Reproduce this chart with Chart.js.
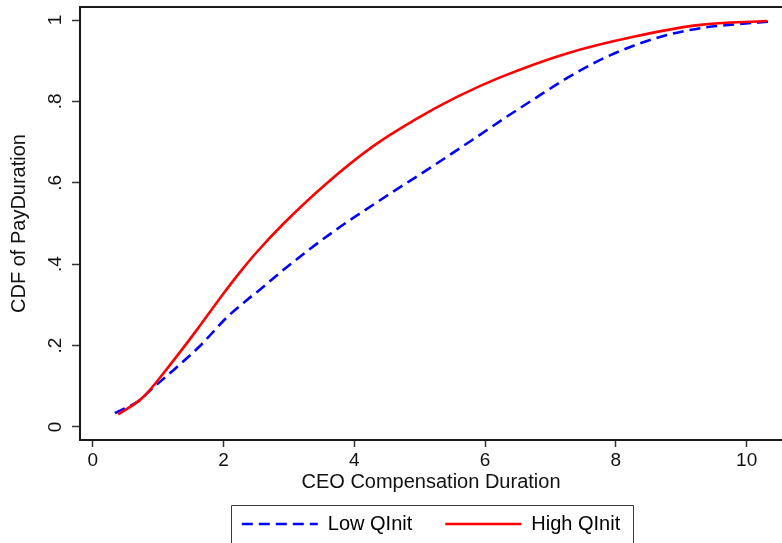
<!DOCTYPE html>
<html>
<head>
<meta charset="utf-8">
<title>CDF of PayDuration</title>
<script src="https://cdn.jsdelivr.net/npm/chart.js@4.4.1/dist/chart.umd.min.js"></script>
<style>
  html, body { margin: 0; padding: 0; background: #ffffff; }
  canvas { display: block; }
</style>
</head>
<body>
<canvas id="cdf" width="782" height="543"></canvas>
<script>
// Series: cumulative share of CEOs by compensation duration (years)
const seriesNames = ['Low QInit', 'High QInit'];

const lowX = [0.34, 0.72, 0.88, 1.23, 1.64, 2.05, 2.35, 2.56, 2.97, 3.68, 4.44, 5.21, 5.82, 6.28, 6.74, 7.25, 7.76, 8.27, 8.78, 9.29, 9.80, 10.36];
const lowY = [0.034, 0.066, 0.090, 0.139, 0.199, 0.269, 0.311, 0.338, 0.393, 0.480, 0.562, 0.642, 0.707, 0.757, 0.805, 0.857, 0.902, 0.937, 0.963, 0.980, 0.989, 0.996];

const highX = [0.39, 0.72, 0.83, 1.18, 1.59, 2.00, 2.25, 2.51, 2.92, 3.58, 4.29, 4.95, 5.57, 6.23, 7.25, 8.27, 9.29, 10.31];
const highY = [0.031, 0.066, 0.083, 0.152, 0.238, 0.328, 0.380, 0.430, 0.500, 0.599, 0.690, 0.757, 0.811, 0.859, 0.918, 0.959, 0.988, 0.9975];

const xTickValues = [0, 2, 4, 6, 8, 10];
const xTickLabels = ['0', '2', '4', '6', '8', '10'];
const yTickValues = [0, 0.2, 0.4, 0.6, 0.8, 1];
const yTickLabels = ['0', '.2', '.4', '.6', '.8', '1'];

const xTitle = 'CEO Compensation Duration';
const yTitle = 'CDF of PayDuration';

const FONT = "'Liberation Sans', Arial, Helvetica, sans-serif";
const LOW_COLOR = '#0000ff';
const HIGH_COLOR = '#ff0000';
const LOW_DASH = [11, 6];
const AXIS_COLOR = '#1a1a1a';

const toPoints = (xs, ys) => xs.map((x, i) => ({ x: x, y: ys[i] }));

// Top edge of the plot frame
const frameTop = {
  id: 'frameTop',
  afterDraw(chart) {
    const { ctx, chartArea } = chart;
    ctx.save();
    ctx.strokeStyle = AXIS_COLOR;
    ctx.lineWidth = 2;
    ctx.beginPath();
    ctx.moveTo(chartArea.left - 1, chartArea.top);
    ctx.lineTo(chartArea.right, chartArea.top);
    ctx.stroke();
    ctx.restore();
  }
};

// Thin box around the legend entries
const legendFrame = {
  id: 'legendFrame',
  afterDraw(chart) {
    const lg = chart.legend;
    if (!lg || !lg.legendHitBoxes || !lg.legendHitBoxes.length) return;
    const boxes = lg.legendHitBoxes;
    const first = boxes[0];
    const last = boxes[boxes.length - 1];
    const itemTop = lg.top + lg.options.labels.padding;
    const left = first.left - 11;
    const right = last.left + last.width + 13;
    const top = itemTop - 9;
    const { ctx } = chart;
    ctx.save();
    ctx.strokeStyle = '#3a3a3a';
    ctx.lineWidth = 1;
    ctx.beginPath();
    ctx.moveTo(Math.round(left) + 0.5, chart.height + 5);
    ctx.lineTo(Math.round(left) + 0.5, Math.round(top) + 0.5);
    ctx.lineTo(Math.round(right) + 0.5, Math.round(top) + 0.5);
    ctx.lineTo(Math.round(right) + 0.5, chart.height + 5);
    ctx.stroke();
    ctx.restore();
  }
};

new Chart(document.getElementById('cdf'), {
  type: 'line',
  data: {
    datasets: [
      {
        label: seriesNames[0],
        data: toPoints(lowX, lowY),
        borderColor: LOW_COLOR,
        borderWidth: 2.6,
        borderDash: LOW_DASH,
        pointRadius: 0,
        fill: false,
        cubicInterpolationMode: 'monotone',
        order: 1
      },
      {
        label: seriesNames[1],
        data: toPoints(highX, highY),
        borderColor: HIGH_COLOR,
        borderWidth: 2.6,
        pointRadius: 0,
        fill: false,
        cubicInterpolationMode: 'monotone',
        order: 0
      }
    ]
  },
  options: {
    responsive: false,
    animation: false,
    devicePixelRatio: 1,
    layout: { padding: { top: 7, right: 0, bottom: 0, left: 0 } },
    plugins: {
      tooltip: { enabled: false },
      legend: {
        position: 'bottom',
        fullSize: false,
        maxHeight: 62,
        labels: {
          usePointStyle: true,
          pointStyle: 'line',
          pointStyleWidth: 76,
          padding: 33,
          color: '#111111',
          font: { family: FONT, size: 20 },
          generateLabels() {
            return [
              { text: seriesNames[0], strokeStyle: LOW_COLOR, fillStyle: LOW_COLOR, lineWidth: 2.6, lineDash: LOW_DASH, pointStyle: 'line', datasetIndex: 0 },
              { text: seriesNames[1], strokeStyle: HIGH_COLOR, fillStyle: HIGH_COLOR, lineWidth: 2.6, lineDash: [], pointStyle: 'line', datasetIndex: 1 }
            ];
          }
        }
      }
    },
    scales: {
      x: {
        type: 'linear',
        position: 'bottom',
        min: -0.194,
        max: 10.54,
        afterBuildTicks(scale) {
          scale.ticks = xTickValues.map(v => ({ value: v }));
        },
        afterFit(scale) {
          scale.height = 41;
          scale.paddingLeft = 0;
          scale.paddingRight = 0;
        },
        ticks: {
          includeBounds: false,
          autoSkip: false,
          maxRotation: 0,
          minRotation: 0,
          padding: 2,
          color: '#111111',
          font: { family: FONT, size: 19 },
          callback: (value, index) => xTickLabels[index]
        },
        grid: {
          drawOnChartArea: false,
          drawTicks: true,
          tickLength: 7,
          tickColor: '#333333',
          tickWidth: 1.5
        },
        border: { display: true, color: AXIS_COLOR, width: 2 },
        title: {
          display: true,
          text: xTitle,
          color: '#111111',
          font: { family: FONT, size: 20, lineHeight: 1 },
          padding: { top: 0, bottom: -11 }
        }
      },
      y: {
        type: 'linear',
        position: 'left',
        min: -0.032,
        max: 1.032,
        afterBuildTicks(scale) {
          scale.ticks = yTickValues.map(v => ({ value: v }));
        },
        afterFit(scale) {
          scale.width = 80;
          scale.paddingTop = 0;
          scale.paddingBottom = 0;
        },
        ticks: {
          includeBounds: false,
          autoSkip: false,
          minRotation: 90,
          maxRotation: 90,
          crossAlign: 'center',
          padding: 8,
          color: '#111111',
          font: { family: FONT, size: 19 },
          callback: (value, index) => yTickLabels[index]
        },
        grid: {
          drawOnChartArea: false,
          drawTicks: true,
          tickLength: 8,
          tickColor: '#333333',
          tickWidth: 1.5
        },
        border: { display: true, color: AXIS_COLOR, width: 2 },
        title: {
          display: true,
          text: yTitle,
          color: '#111111',
          font: { family: FONT, size: 20, lineHeight: 1 },
          padding: { top: 9, bottom: 0 }
        }
      }
    }
  },
  plugins: [frameTop, legendFrame]
});
</script>
</body>
</html>
